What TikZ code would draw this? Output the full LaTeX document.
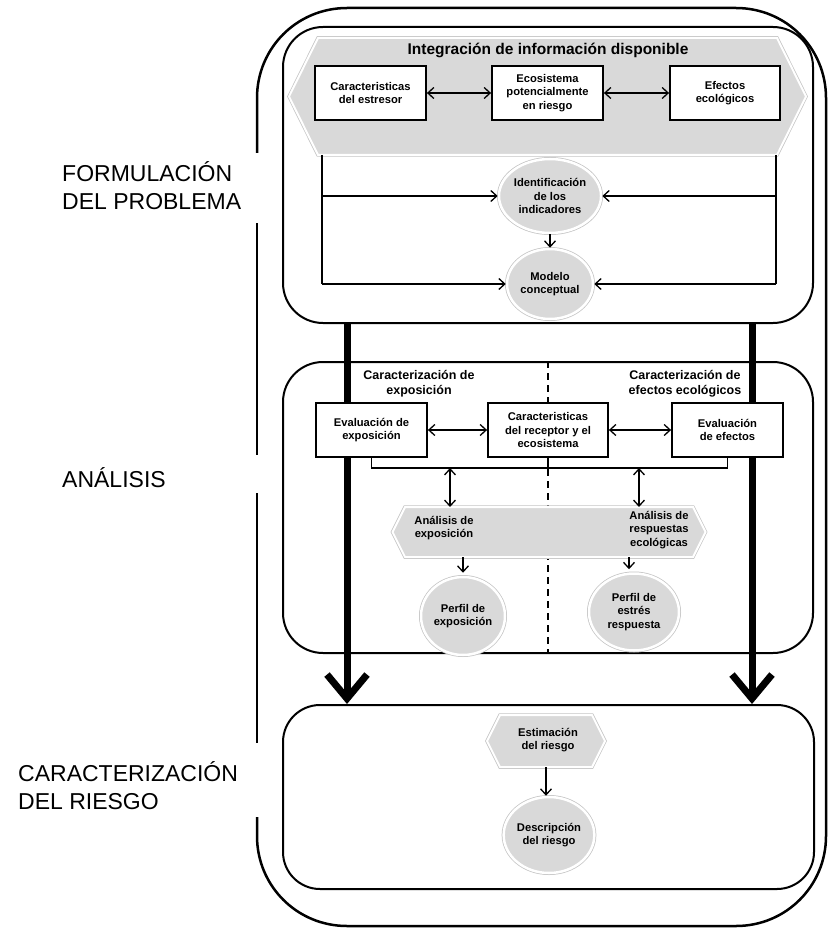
\documentclass[tikz,border=0pt]{standalone}
\usepackage{fontspec}
\setmainfont{Liberation Sans}
\usetikzlibrary{arrows.meta,calc,shapes.geometric}
\definecolor{panelgray}{HTML}{D9D9D9}
\definecolor{rimshade}{HTML}{C4C4C4}

\begin{document}
\begin{tikzpicture}[x=1pt,y=-1pt,
  lbl/.style={font=\fontsize{23}{28}\selectfont, align=left, anchor=west, inner sep=0},
  txt/.style={font=\fontsize{11.2}{13.7}\selectfont\bfseries, align=center, inner sep=0},
  head/.style={font=\fontsize{12.5}{15}\selectfont\bfseries, align=center, inner sep=0},
  panel/.style={draw, line width=2pt, rounded corners=40pt, inner sep=0},
  stepbox/.style={draw, line width=1.8pt, fill=white, minimum height=54pt, txt},
  bubble/.style={ellipse, fill=panelgray, draw=white, line width=2.5pt, txt,
                 preaction={draw=rimshade, line width=4pt}},
  hexslot/.style={minimum height=#1, inner sep=0, outer sep=0},
  hexfill/.style={fill=panelgray, draw=white, line width=2pt,
                  preaction={draw=rimshade, line width=3.5pt}},
  plain/.style={line width=1.3pt},
  link/.style={line width=1.3pt, -{Straight Barb[length=6pt,width=11pt]}},
  dlink/.style={line width=1.3pt, {Straight Barb[length=6pt,width=11pt]}-{Straight Barb[length=6pt,width=11pt]}},
  bigarrow/.style={line width=7pt, -{Straight Barb[length=24pt,width=40pt]}},
  frame/.style={line width=2.5pt},
]
\useasboundingbox (0,0) rectangle (828,928);

% outer frame, open on the left where the phase labels sit
\draw[frame] (257,153) -- (257,98) .. controls (257,48) and (297,8) .. (347,8)
  -- (736,8) .. controls (786,8) and (826,48) .. (826,98)
  -- (826,836) .. controls (826,886) and (786,926) .. (736,926)
  -- (347,926) .. controls (297,926) and (257,886) .. (257,836) -- (257,817);
\draw[frame] (257,223) -- (257,455);
\draw[frame] (257,493) -- (257,743);

% phase labels
\node[lbl] (lform) at (62,186) {FORMULACIÓN\\DEL PROBLEMA};
\node[lbl] (lanal) at (62,478) {ANÁLISIS};
\node[lbl] (lrisk) at (18,786) {CARACTERIZACIÓN\\DEL RIESGO};

% the three phase panels
\node[panel, minimum width=530pt, minimum height=296pt] (formbox) at (548,175) {};
\node[panel, minimum width=530pt, minimum height=291pt] (anbox) at (548,507.5) {};
\node[panel, rounded corners=37pt, minimum width=531pt, minimum height=184pt] (riskbox) at (548.5,797) {};

% divider between exposure and effects
\draw[line width=1.5pt, dash pattern=on 7pt off 5pt] (anbox.north) -- (anbox.south);

% main flow from problem formulation to risk characterization
\coordinate (colL) at (347,0);
\coordinate (colR) at (752,0);
\draw[bigarrow] (formbox.south -| colL) -- (riskbox.north -| colL);
\draw[bigarrow] (formbox.south -| colR) -- (riskbox.north -| colR);

% ---------- problem formulation ----------
\node[hexslot=117pt, minimum width=459pt] (banner) at (547.5,96.5) {};
\path[hexfill] (banner.north west) -- (banner.north east) -- ([xshift=29pt]banner.east)
  -- (banner.south east) -- (banner.south west) -- ([xshift=-29pt]banner.west) -- cycle;
\node[font=\fontsize{15.5}{18}\selectfont\bfseries, inner sep=0] (title) at (548,50)
  {Integración de información disponible};

\node[stepbox, minimum width=111pt] (stress) at (370.5,93) {Caracteristicas\\del estresor};
\node[stepbox, minimum width=111pt] (ecos) at (547.5,93) {Ecosistema\\potencialmente\\en riesgo};
\node[stepbox, minimum width=110pt] (effects) at (725,93) {Efectos\\ecológicos};
\draw[dlink] (stress) -- (ecos);
\draw[dlink] (ecos) -- (effects);

\node[bubble, minimum width=86pt, minimum height=74pt] (ident) at (550,196) {Identificación\\de los\\indicadores};
\node[bubble, minimum width=86pt, minimum height=70pt] (model) at (550,284) {Modelo\\conceptual};
\draw[link] (ident) -- (model);

\coordinate (feedL) at (322,0);
\coordinate (feedR) at (776,0);
\draw[plain] (banner.south -| feedL) -- (feedL |- model.west);
\draw[plain] (banner.south -| feedR) -- (feedR |- model.east);
\draw[link] (feedL |- ident.west) -- (ident.west);
\draw[link] (feedL |- model.west) -- (model.west);
\draw[link] (feedR |- ident.east) -- (ident.east);
\draw[link] (feedR |- model.east) -- (model.east);

% ---------- analysis ----------
\node[head] (hexp) at (419,384) {Caracterización de\\exposición};
\node[head] (heff) at (685,384) {Caracterización de\\efectos ecológicos};

\node[stepbox, minimum width=111pt] (evexp) at (371.5,430) {Evaluación de\\exposición};
\node[stepbox, minimum width=120pt] (recep) at (548,430) {Caracteristicas\\del receptor y el\\ecosistema};
\node[stepbox, minimum width=111pt] (eveff) at (727.5,430) {Evaluación\\de efectos};
\draw[dlink] (evexp) -- (recep);
\draw[dlink] (recep) -- (eveff);

\coordinate (brk) at (0,468);
\draw[plain] (evexp.south) -- (evexp.south |- brk) -- (eveff.south |- brk) -- (eveff.south);
\draw[plain] (recep.south) -- (recep.south |- brk);

\node[hexslot=50pt, minimum width=288pt] (anal) at (549,532) {};
\path[hexfill] (anal.north west) -- (anal.north east) -- ([xshift=12.5pt]anal.east)
  -- (anal.south east) -- (anal.south west) -- ([xshift=-12.5pt]anal.west) -- cycle;
\node[txt] (anexp) at (444,528) {Análisis de\\exposición};
\node[txt] (anresp) at (659,530) {Análisis de\\respuestas\\ecológicas};

\coordinate (dl) at (450,0);
\coordinate (dr) at (639,0);
\draw[dlink] (dl |- brk) -- (dl |- anal.north);
\draw[dlink] (dr |- brk) -- (dr |- anal.north);

\node[bubble, minimum width=84pt, minimum height=78pt] (pexp) at (463,616) {Perfil de\\exposición};
\node[bubble, minimum width=90pt, minimum height=77pt] (pstr) at (634,612) {Perfil de\\estrés\\respuesta};
\coordinate (pl) at (463,0);
\coordinate (pr) at (629,0);
\draw[link, shorten >=3pt] (pl |- anal.south) -- (pl |- pexp.north);
\draw[link, shorten >=3pt] (pr |- anal.south) -- (pr |- pstr.north);

% ---------- risk characterization ----------
\node[hexslot=52pt, minimum width=92pt] (estim) at (546,741) {};
\path[hexfill] (estim.north west) -- (estim.north east) -- ([xshift=13pt]estim.east)
  -- (estim.south east) -- (estim.south west) -- ([xshift=-13pt]estim.west) -- cycle;
\node[txt] (estimtxt) at (548,740) {Estimación\\del riesgo};

\node[bubble, minimum width=88pt, minimum height=76pt] (descr) at (549,835) {Descripción\\del riesgo};
\draw[link] (estim.south) -- (estim.south |- descr.north);

\end{tikzpicture}
\end{document}
